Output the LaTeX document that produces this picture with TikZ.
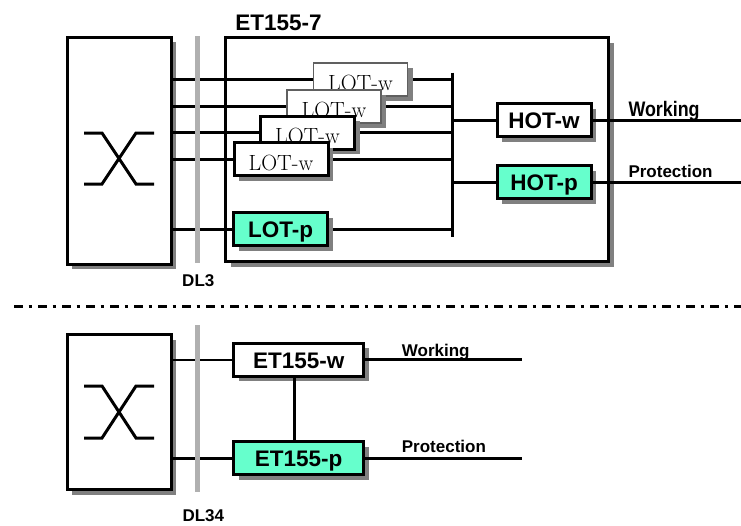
\documentclass[tikz,border=0pt]{standalone}
\usepackage{fontspec}
\newfontfamily\arial{Liberation Sans}
\usetikzlibrary{shadows}
\definecolor{aqua}{HTML}{66FFCC}
\definecolor{shadowgray}{HTML}{808080}
\definecolor{bargray}{HTML}{B0B0B0}
\definecolor{thingray}{HTML}{606060}
\pgfdeclarelayer{bgzero}
\pgfdeclarelayer{bgone}
\pgfsetlayers{bgzero,bgone,main}
\begin{document}
\begin{tikzpicture}[x=1pt,y=-1pt,
  shadowed/.style={drop shadow={shadow xshift=5pt,shadow yshift=-5pt,fill=shadowgray,opacity=1}},
  bigbox/.style={draw,line width=3pt,fill=white,inner sep=0pt,shadowed},
  blk/.style={draw,line width=3pt,fill=white,inner sep=0pt,shadowed,
    minimum width=94pt,minimum height=33pt},
  lotw/.style={blk,font=\fontsize{22}{24}\selectfont,text height=22pt,text depth=0pt},
  lotwback/.style={lotw,draw=thingray,line width=1.3pt},
  bl/.style={blk,font=\arial\bfseries\fontsize{22.5}{24}\selectfont,text height=17.5pt,text depth=0pt},
  aquabox/.style={bl,fill=aqua},
  wire/.style={line width=3pt},
  thinwire/.style={line width=2.3pt},
  bar/.style={line width=5pt,draw=bargray},
  side/.style={font=\arial\bfseries\fontsize{17}{19}\selectfont,inner sep=0pt},
  title/.style={font=\arial\bfseries\fontsize{22.5}{24}\selectfont,inner sep=0pt},
  sym/.style={line width=3pt}
]
\useasboundingbox (0,0) rectangle (741,525);

% ---------- top part ----------
\begin{pgfonlayer}{bgzero}
  \node[bigbox,minimum width=104pt,minimum height=227pt] (sw1) at (119,150.5) {};
  \node[bigbox,minimum width=383pt,minimum height=224pt] (et7) at (417,149.5) {};
\end{pgfonlayer}
\node[title,anchor=base] (t7) at (278.5,30) {ET155-7};

\draw[sym] (84,133) -- (102,133) -- (136,184) -- (154,184);
\draw[sym] (84,184) -- (102,184) -- (136,133) -- (154,133);

\node[lotwback] (lw1) at (360.5,79.5) {LOT-w};
\node[lotwback] (lw2) at (334,106.5) {LOT-w};
\node[lotw] (lw3) at (307.5,132.5) {LOT-w};
\node[lotw] (lw4) at (281,159) {LOT-w};
\node[aquabox] (lp) at (280.5,229) {LOT-p};
\node[bl] (hw) at (544,120) {HOT-w};
\node[aquabox] (hp) at (544,182) {HOT-p};

\coordinate (busT) at (452,72.5);
\coordinate (busB) at (452,237);
\coordinate (outR) at (741,0);

\begin{pgfonlayer}{bgone}
  \foreach \n in {lw1,lw2,lw3,lw4,lp}{
    \draw[wire] (sw1.east |- \n.west) -- (\n.west);
    \draw[wire] (\n.east) -- (\n.east -| busT);
  }
  \draw[wire] (hw.west -| busT) -- (hw.west);
  \draw[wire] (hp.west -| busT) -- (hp.west);
\end{pgfonlayer}
\draw[wire] (busT) -- (busB);
\draw[wire] (hw.east) -- (hw.east -| outR);
\draw[wire] (hp.east) -- (hp.east -| outR);
\draw[bar] (197.5,36) -- (197.5,263);

\node[anchor=base west,inner sep=0pt,font=\arial\bfseries\fontsize{21}{23}\selectfont] (wk1) at (628.3,116.7) {\scalebox{0.85}[1]{Working}};
\node[side,anchor=base west] (pr1) at (628.3,177.3) {Protection};
\node[side,anchor=base] (dl3) at (198.3,286.7) {DL3};

% ---------- separator ----------
\coordinate (sepL) at (14,306.7);
\coordinate (sepR) at (741,306.7);
\draw[line width=3pt,dash pattern=on 8.5pt off 6pt on 3pt off 6.5pt] (sepL) -- (sepR);

% ---------- bottom part ----------
\begin{pgfonlayer}{bgzero}
  \node[bigbox,minimum width=104pt,minimum height=155pt] (sw2) at (119,412) {};
\end{pgfonlayer}
\draw[sym] (84,386) -- (102,386) -- (136,438) -- (154,438);
\draw[sym] (84,438) -- (102,438) -- (136,386) -- (154,386);

\node[bl,minimum width=130pt] (ew) at (298.7,359.7) {ET155-w};
\node[aquabox,minimum width=130pt] (ep) at (298.7,458) {ET155-p};
\coordinate (outR2) at (522,0);

\begin{pgfonlayer}{bgone}
  \draw[thinwire] (sw2.east |- ew.west) -- (ew.west);
  \draw[wire] (sw2.east |- ep.west) -- (ep.west);
\end{pgfonlayer}
\draw[bar] (197.5,325) -- (197.5,491.5);
\draw[wire] ([xshift=-4.7pt]ew.south) -- ([xshift=-4.7pt]ep.north);
\draw[wire] (ew.east) -- (ew.east -| outR2);
\draw[wire] (ep.east) -- (ep.east -| outR2);

\node[side,anchor=base west] (wk2) at (401.7,356.3) {Working};
\node[side,anchor=base west] (pr2) at (401.7,452) {Protection};
\node[side,anchor=base] (dl34) at (203.3,521.5) {DL34};
\end{tikzpicture}
\end{document}
